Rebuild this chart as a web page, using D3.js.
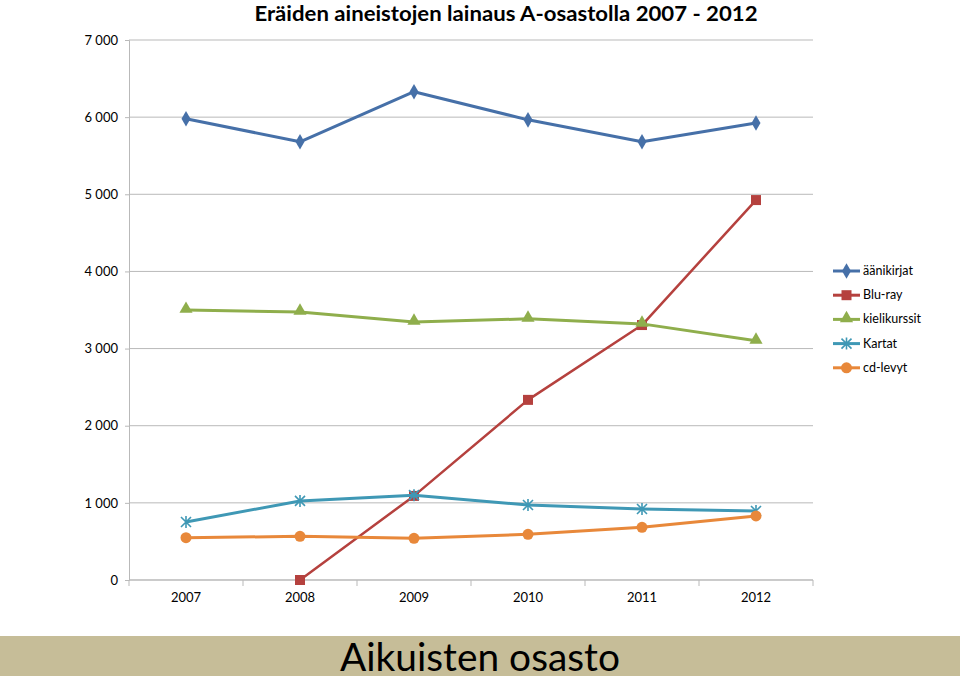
<!DOCTYPE html>
<html><head><meta charset="utf-8">
<script src="https://cdn.jsdelivr.net/npm/d3@7"></script>
<style>body{margin:0;background:#fff}svg{display:block}</style>
</head><body>
<svg id="c" width="960" height="676"></svg>
<script>
const years = ["2007","2008","2009","2010","2011","2012"];
const yTicks = [0,1000,2000,3000,4000,5000,6000,7000];
const aanikirjat = [5980, 5680, 6330, 5965, 5680, 5925];
const bluray = [null, 0, 1090, 2335, 3305, 4925];
const kielikurssit = [3500, 3475, 3345, 3385, 3320, 3100];
const kartat = [752, 1025, 1100, 972, 920, 895];
const cdlevyt = [548, 566, 540, 592, 683, 830];
const seriesNames = ["äänikirjat","Blu-ray","kielikurssit","Kartat","cd-levyt"];
const seriesData = [aanikirjat, bluray, kielikurssit, kartat, cdlevyt];
const colors = ["#4670a8","#b5413e","#8fae4c","#3f98b5","#e8883a"];
const shapes = ["diamond","square","triangle","star","circle"];

const svg = d3.select("#c");
const L=129,R=813,T=40,B=580;
const x = d3.scaleBand().domain(years).range([L,R]);
const y = d3.scaleLinear().domain([0,7000]).range([B,T]);
const font = "Lato, 'Open Sans', sans-serif";

svg.append("text").attr("x",506).attr("y",21).attr("text-anchor","middle")
  .attr("font-family",font).attr("font-weight","bold").attr("font-size",21.5).attr("fill","#000")
  .attr("textLength",503).attr("lengthAdjust","spacingAndGlyphs")
  .text("Eräiden aineistojen lainaus A-osastolla 2007 - 2012");

// gridlines
svg.append("g").selectAll("line").data(yTicks).join("line")
  .attr("x1",L).attr("x2",R).attr("y1",d=>y(d)).attr("y2",d=>y(d))
  .attr("stroke","#b9b9b9").attr("stroke-width",1);

const ya = svg.append("g").attr("transform",`translate(${L},0)`)
  .call(d3.axisLeft(y).tickValues(yTicks).tickSize(4).tickPadding(7)
    .tickFormat(d=>d3.format(",")(d).replace(",", " ")));
ya.select(".domain").attr("stroke","#b9b9b9");
ya.selectAll(".tick line").attr("stroke","#b9b9b9");
ya.selectAll("text").attr("font-family",font).attr("font-size",13).attr("fill","#000");

const xa = svg.append("g").attr("transform",`translate(0,${B})`)
  .call(d3.axisBottom(x).tickSize(0).tickPadding(13));
xa.select(".domain").remove();
xa.selectAll("text").attr("font-family",font).attr("font-size",13).attr("fill","#000");
// band-boundary ticks
svg.append("g").selectAll("line").data(years.concat(["end"])).join("line")
  .attr("x1",(d,i)=>L+i*x.bandwidth()).attr("x2",(d,i)=>L+i*x.bandwidth())
  .attr("y1",B).attr("y2",B+6).attr("stroke","#b9b9b9");
svg.append("line").attr("x1",L).attr("x2",R).attr("y1",B).attr("y2",B).attr("stroke","#b9b9b9");

function marker(g, shape, color, cx, cy){
  if(shape==="diamond") g.append("path").attr("d",d3.symbol(d3.symbolDiamond,70)()).attr("transform",`translate(${cx},${cy})`).attr("fill",color);
  else if(shape==="square") g.append("rect").attr("x",cx-5).attr("y",cy-5).attr("width",10).attr("height",10).attr("fill",color);
  else if(shape==="triangle") g.append("path").attr("d",d3.symbol(d3.symbolTriangle,75)()).attr("transform",`translate(${cx},${cy-1})`).attr("fill",color);
  else if(shape==="star") {
    const r=5;
    g.append("path").attr("d",`M${cx-r},${cy-r}L${cx+r},${cy+r}M${cx-r},${cy+r}L${cx+r},${cy-r}M${cx},${cy-r-1}L${cx},${cy+r+1}`)
      .attr("stroke",color).attr("stroke-width",1.6).attr("fill","none");
  }
  else g.append("circle").attr("cx",cx).attr("cy",cy).attr("r",5.5).attr("fill",color);
}

const line = d3.line().defined(d=>d.v!=null).x(d=>x(d.k)+x.bandwidth()/2).y(d=>y(d.v));
seriesData.forEach((arr,si)=>{
  const pts = years.map((k,i)=>({k,v:arr[i]}));
  const g = svg.append("g");
  g.append("path").attr("d",line(pts)).attr("fill","none").attr("stroke",colors[si])
    .attr("stroke-width",si===1?2.5:3).attr("stroke-linejoin","round");
  pts.filter(d=>d.v!=null).forEach(d=>marker(g,shapes[si],colors[si],x(d.k)+x.bandwidth()/2,y(d.v)));
});

// legend
const lg = svg.append("g");
seriesNames.forEach((n,i)=>{
  const yy = 271 + i*24.2;
  lg.append("line").attr("x1",833).attr("x2",860).attr("y1",yy).attr("y2",yy).attr("stroke",colors[i]).attr("stroke-width",3);
  marker(lg,shapes[i],colors[i],846.5,yy);
  lg.append("text").attr("x",863).attr("y",yy+4).attr("font-family",font).attr("font-size",12.5).attr("fill","#000").text(n);
});

// banner
svg.append("rect").attr("x",0).attr("y",636).attr("width",960).attr("height",40).attr("fill","#c6bd98");
svg.append("text").attr("x",480).attr("y",671).attr("text-anchor","middle")
  .attr("font-family",font).attr("font-size",39).attr("fill","#000")
  .attr("textLength",280).attr("lengthAdjust","spacingAndGlyphs").text("Aikuisten osasto");
</script>
</body></html>
